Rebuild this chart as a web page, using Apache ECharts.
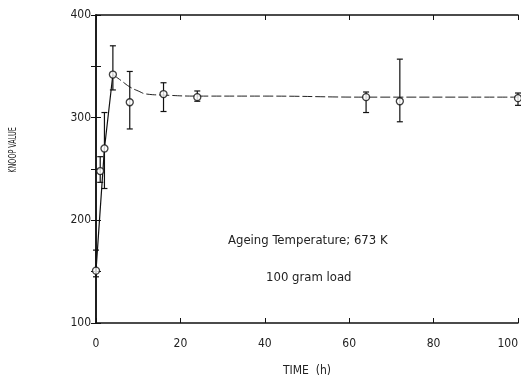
<!DOCTYPE html>
<html>
<head>
<meta charset="utf-8">
<script src="https://cdn.jsdelivr.net/npm/echarts@6/dist/echarts.min.js"></script>
<style>
  body { margin: 0; background: #fff; }
  #chart { width: 521px; height: 381px; }
</style>
</head>
<body>
<div id="chart"></div>
<script>
'use strict';

// measured points: time (h), knoop value, error bar low / high
const hours  = [0, 1, 2, 4, 8, 16, 24, 64, 72, 100];
const knoop  = [151, 248, 270, 342, 315, 323, 320, 320, 316, 319];
const errLow = [145, 237, 231, 327, 289, 306, 316, 305, 296, 312];
const errHigh = [171, 262, 305, 370, 345, 334, 326, 325, 357, 324];

// rising part drawn solid
const riseX = [0, 2, 4];
const riseY = [151, 270, 342];

// fitted curve after the peak, drawn dashed
const fitX = [4, 6, 8, 10, 12, 16, 24, 40, 64, 100];
const fitY = [342, 336, 330, 326, 323, 322, 321, 321, 320, 320];

const yTicks = [100, 200, 300, 400];
const xTicks = [0, 20, 40, 60, 80, 100];

const font = "'DejaVu Sans Condensed', 'Liberation Sans Narrow', sans-serif";

const chart = echarts.init(document.getElementById('chart'));

const frameLine = { lineStyle: { color: '#111', width: 1.5 } };
const frameTick = { inside: true, length: 5, lineStyle: { color: '#111' } };

const option = {
  animation: false,
  backgroundColor: '#fff',
  grid: { left: 96, right: 3, top: 15, bottom: 58, outerBoundsMode: 'none' },
  xAxis: [
    {
      type: 'value',
      min: 0, max: 100, interval: 20,
      name: 'TIME  (h)',
      nameLocation: 'middle',
      nameGap: 42,
      nameTextStyle: { fontFamily: font, fontSize: 12, color: '#222' },
      axisLine: frameLine,
      axisTick: frameTick,
      axisLabel: {
        fontFamily: font, fontSize: 12, color: '#222', margin: 15,
        alignMaxLabel: 'right',
        formatter: v => xTicks.includes(v) ? String(v) : ''
      },
      splitLine: { show: false }
    },
    {
      type: 'value',
      position: 'top',
      min: 0, max: 100, interval: 20,
      axisLine: frameLine,
      axisTick: frameTick,
      axisLabel: { show: false },
      splitLine: { show: false }
    }
  ],
  yAxis: [
    {
      type: 'value',
      min: 100, max: 400, interval: 100,
      axisLine: frameLine,
      axisTick: frameTick,
      minorTick: { show: true, splitNumber: 2, length: 5, lineStyle: { color: '#111' } },
      axisLabel: {
        fontFamily: font, fontSize: 12, color: '#222', margin: 5,
        formatter: v => yTicks.includes(v) ? String(v) : ''
      },
      splitLine: { show: false }
    },
    {
      type: 'value',
      position: 'right',
      min: 100, max: 400, interval: 100,
      axisLine: frameLine,
      axisTick: frameTick,
      minorTick: { show: true, splitNumber: 2, length: 5, lineStyle: { color: '#111' } },
      axisLabel: { show: false },
      splitLine: { show: false }
    }
  ],
  graphic: [
    {
      type: 'text', x: 13, y: 150, rotation: Math.PI / 2, scaleX: 0.65,
      style: {
        text: 'KNOOP VALUE', font: '11px ' + font, fill: '#222',
        align: 'center', verticalAlign: 'middle'
      }
    },
    {
      type: 'text', left: 228, top: 234,
      style: { text: 'Ageing Temperature; 673 K', font: '13px ' + font, fill: '#222' }
    },
    {
      type: 'text', left: 266, top: 271,
      style: { text: '100 gram load', font: '13px ' + font, fill: '#222' }
    }
  ],
  series: [
    {
      type: 'line',
      data: riseX.map((x, i) => [x, riseY[i]]),
      symbol: 'none',
      lineStyle: { color: '#111', width: 1.2 },
      z: 2
    },
    {
      type: 'line',
      smooth: true,
      data: fitX.map((x, i) => [x, fitY[i]]),
      symbol: 'none',
      lineStyle: { color: '#222', width: 1, type: [10, 3] },
      z: 2
    },
    {
      type: 'custom',
      data: hours.map((x, i) => [x, errLow[i], errHigh[i]]),
      renderItem: function (params, api) {
        const lo = api.coord([api.value(0), api.value(1)]);
        const hi = api.coord([api.value(0), api.value(2)]);
        const cap = 3;
        const st = { stroke: '#111', lineWidth: 1.2 };
        return {
          type: 'group',
          children: [
            { type: 'line', shape: { x1: lo[0], y1: lo[1], x2: hi[0], y2: hi[1] }, style: st },
            { type: 'line', shape: { x1: lo[0] - cap, y1: lo[1], x2: lo[0] + cap, y2: lo[1] }, style: st },
            { type: 'line', shape: { x1: hi[0] - cap, y1: hi[1], x2: hi[0] + cap, y2: hi[1] }, style: st }
          ]
        };
      },
      z: 3
    },
    {
      type: 'scatter',
      data: hours.map((x, i) => [x, knoop[i]]),
      symbol: 'circle',
      symbolSize: 7,
      itemStyle: { color: '#fff', borderColor: '#111', borderWidth: 1.3 },
      z: 4
    }
  ]
};

chart.setOption(option);
</script>
</body>
</html>
